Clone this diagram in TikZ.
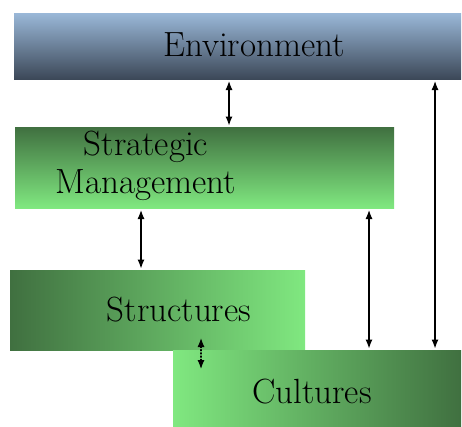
\documentclass[tikz,border=0pt]{standalone}
\usepackage{fontspec}
\usetikzlibrary{arrows.meta,calc}
\definecolor{envtop}{RGB}{154,184,216}
\definecolor{envmid}{RGB}{136,162,192}
\definecolor{envbot}{RGB}{60,72,88}
\definecolor{gdark}{RGB}{64,112,64}
\definecolor{gmid}{RGB}{98,176,98}
\definecolor{glight}{RGB}{128,232,128}
\begin{document}
\begin{tikzpicture}[x=1pt, y=-1pt, line join=round, line cap=round, >={Latex[length=9pt,width=7pt]},
		box/.style={inner sep=0pt, outer sep=0pt},
		lbl/.style={font=\fontsize{35}{38}\selectfont, inner sep=0pt, align=center},
		link/.style={<->, line width=1.2pt, shorten <=2pt, shorten >=1.5pt}]
		\useasboundingbox (0,0) rectangle (462,426);
		% boxes
		\node[box, minimum width=447pt, minimum height=66pt, top color=envtop, middle color=envmid, bottom color=envbot] (env) at (237.5,46) {};
		\node[box, minimum width=379pt, minimum height=81pt, top color=gdark, middle color=gmid, bottom color=glight] (strat) at (204.5,167.5) {};
		\node[box, minimum width=295pt, minimum height=80pt, left color=gdark, middle color=gmid, right color=glight] (struct) at (157.5,310) {};
		\node[box, minimum width=288pt, minimum height=76pt, left color=glight, middle color=gmid, right color=gdark] (cult) at (317,388) {};
		% texts
		\node[lbl] (envtxt) at (254,45) {Environment};
		\node[lbl] (strattxt) at (146,166) {Strategic\\Management};
		\node[lbl] (structtxt) at (179,310) {Structures};
		\node[lbl] (culttxt) at (312,392) {Cultures};
		% links
		\draw[link] (229,0 |- env.south) -- (229,0 |- strat.north);
		\draw[link] (141,0 |- strat.south) -- (141,0 |- struct.north);
		\draw[link] (369,0 |- strat.south) -- (369,0 |- cult.north);
		\draw[link] (435,0 |- env.south) -- (435,0 |- cult.north);
		\draw[link, dotted, shorten <=0pt, shorten >=0pt] ($(struct.south -| 201,0)+(0,-12)$) -- ($(cult.north -| 201,0)+(0,19)$);
	\end{tikzpicture}
\end{document}
